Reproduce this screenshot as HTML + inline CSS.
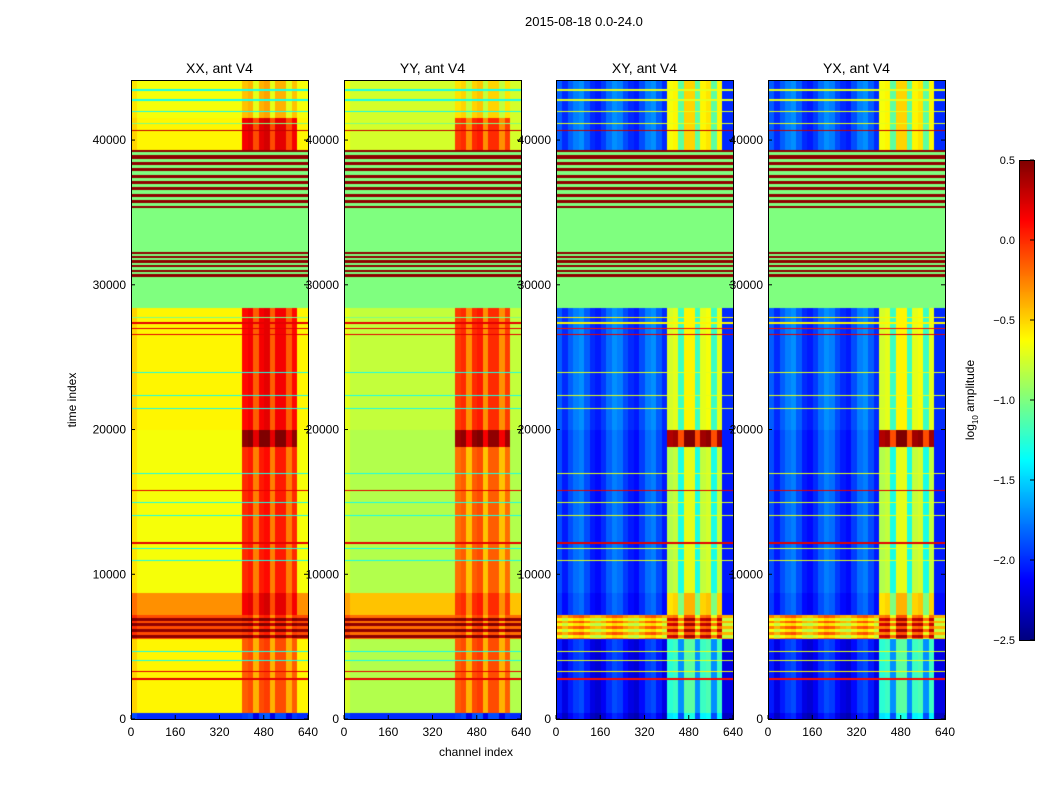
<!DOCTYPE html>
<html><head><meta charset="utf-8">
<style>
body{margin:0;background:#fff;font-family:"Liberation Sans",sans-serif;}
#root{position:relative;width:1050px;height:800px;overflow:hidden;}
.t{position:absolute;font-size:13px;color:#000;white-space:nowrap;}
canvas{position:absolute;z-index:1;}
#ax{z-index:2;}
</style></head><body>
<div id="root">
<div class="t" style="left:525px;top:14px;font-size:13px">2015-08-18 0.0-24.0</div>
<svg id="ax" width="1050" height="800" style="position:absolute;left:0;top:0"></svg>
</div>
<script>
// ---- data ----
const tMax = 44150;
const segStart = [0, 400, 5500, 7200, 8700, 18800, 20000, 28400, 30500, 32300, 35300, 39300, 41500];
const segEnd   = [400, 5500, 7200, 8700, 18800, 20000, 28400, 30500, 32300, 35300, 39300, 41500, 44150];
const segFlag  = [0, 0, 0, 0, 0, 0, 0, 1, 1, 1, 1, 0, 0];
const segStripe= [0, 0, 200, 0, 0, 0, 0, 0, 160, 0, 220, 0, 0];
const xxBase = [-2.0, -0.6, 0.45, -0.3, -0.65, -0.65, -0.6, -1.0, -1.0, -1.0, 0.45, -0.6, -0.65];
const xxRfi  = [-2.0, -0.2, 0.5, 0.1, -0.05, 0.4, 0.05, -1.0, -1.0, -1.0, 0.45, 0.1, -0.5];
const xxAlt  = [0, 0, -0.1, 0, 0, 0, 0, 0, 0.45, 0, -1.0, 0, 0];
const yyBase = [-2.0, -0.85, 0.45, -0.45, -0.85, -0.85, -0.8, -1.0, -1.0, -1.0, 0.45, -0.75, -0.75];
const yyRfi  = [-2.0, -0.2, 0.5, -0.1, -0.25, 0.35, -0.1, -1.0, -1.0, -1.0, 0.45, -0.1, -0.6];
const yyAlt  = [0, 0, -0.2, 0, 0, 0, 0, 0, 0.45, 0, -1.0, 0, 0];
const xyBase = [-2.2, -2.1, -0.7, -2.0, -1.95, -1.95, -1.9, -1.0, -1.0, -1.0, 0.45, -1.9, -1.9];
const xyRfi  = [-1.5, -1.3, 0.2, -0.6, -0.9, 0.3, -0.8, -1.0, -1.0, -1.0, 0.45, -0.7, -0.7];
const xyAlt  = [0, 0, -0.3, 0, 0, 0, 0, 0, 0.45, 0, -1.0, 0, 0];
// per 20-channel bin offsets (32 bins)
const autoChan  = [0.1,0,0,0,0,0,0,0,0,0,0,0,0,0,0,0,0,0,0,0,0.05,0.1,-0.2,0.1,0.15,-0.2,0.1,0.1,-0.2,0.05,0,0];
const crossChan = [0.05,-0.1,0.05,0.15,0.2,0.05,-0.1,-0.15,-0.05,0.1,0.2,0.15,0,-0.1,-0.15,0,0.15,0.2,0.05,-0.1,0.05,0.1,-0.4,0.2,0.2,-0.4,0.1,0.15,-0.4,0.1,-0.1,-0.1];
const rfiFirstBin = 20, rfiLastBin = 29;
// thin horizontal lines
const lineT   = [2800, 3300, 4100, 4700, 11000, 11800, 12200, 14100, 15000, 15800, 17000, 21500, 22400, 24000, 26600, 27000, 27400, 27800, 40700, 41200, 42000, 42800, 43500];
const lineXX  = [0.2, 0.2, -1.3, -1.3, -1.3, -1.3, 0.2, -1.3, -1.3, 0.2, -1.3, -1.3, -1.3, -1.3, 0.2, 0.2, 0.2, -1.0, 0.3, -1.0, -1.3, -1.3, -1.3];
const lineYY  = [0.2, 0.2, -1.3, -1.3, -1.3, -1.3, 0.2, -1.3, -1.3, 0.2, -1.3, -1.3, -1.3, -1.3, 0.2, 0.2, 0.2, -1.0, 0.3, -1.0, -1.3, -1.3, -1.3];
const lineXY  = [0.1, -0.6, -0.7, -0.7, -0.7, -0.7, 0.2, -0.7, -0.7, 0.2, -0.7, -0.7, -0.7, -0.7, 0.2, 0.1, -0.6, -0.6, 0.3, -0.7, -0.7, -0.7, -0.7];
const panelTitles = ["XX, ant V4", "YY, ant V4", "XY, ant V4", "YX, ant V4"];
const xTicks = [0, 160, 320, 480, 640];
const yTicks = [0, 10000, 20000, 30000, 40000];
const cbTicks = [0.5, 0.0, -0.5, -1.0, -1.5, -2.0, -2.5];
const cbLabels = ["0.5", "0.0", "\u22120.5", "\u22121.0", "\u22121.5", "\u22122.0", "\u22122.5"];

// ---- layout ----
const panels = [
 {x:131, base:xxBase, rfi:xxRfi, alt:xxAlt, lines:lineXX, chan:autoChan},
 {x:344, base:yyBase, rfi:yyRfi, alt:yyAlt, lines:lineYY, chan:autoChan},
 {x:556, base:xyBase, rfi:xyRfi, alt:xyAlt, lines:lineXY, chan:crossChan},
 {x:768, base:xyBase, rfi:xyRfi, alt:xyAlt, lines:lineXY, chan:crossChan}];
const PW = 177, PT = 80, PH = 639, vmin = -2.5, vmax = 0.5;
const yS = t => PT + PH - t / tMax * PH;
const xS = (c, x0) => x0 + c / 640 * PW;

function jet(v){
  let f = (v - vmin) / (vmax - vmin); f = Math.max(0, Math.min(1, f));
  const cl = a => Math.max(0, Math.min(1, a));
  const r = cl(Math.min(4*f-1.5, -4*f+4.5)), g = cl(Math.min(4*f-0.5, -4*f+3.5)), b = cl(Math.min(4*f+0.5, -4*f+2.5));
  return [r*255|0, g*255|0, b*255|0];
}
const root = document.getElementById('root');
const svg = document.getElementById('ax');
const NS = 'http://www.w3.org/2000/svg';
function sv(tag, attrs){ const e = document.createElementNS(NS, tag); for (const k in attrs) e.setAttribute(k, attrs[k]); svg.appendChild(e); return e; }

panels.forEach((p, pi) => {
  const cv = document.createElement('canvas');
  cv.width = PW; cv.height = PH;
  cv.style.left = p.x + 'px'; cv.style.top = PT + 'px';
  
  
  root.appendChild(cv);
  const ctx = cv.getContext('2d');
  const img = ctx.createImageData(PW, PH);
  for (let py = 0; py < PH; py++) {
    const t = (PH - py - 0.5) / PH * tMax;
    let s = 0; for (let i = 0; i < segStart.length; i++) if (t >= segStart[i] && t < segEnd[i]) s = i;
    let lineV = null;
    for (let i = 0; i < lineT.length; i++) if (Math.abs(yS(lineT[i]) - PT - py) < 0.6) lineV = p.lines[i];
    for (let px = 0; px < PW; px++) {
      const ch = px / PW * 640, bin = Math.min(31, Math.floor(ch / 20));
      const inRfi = bin >= rfiFirstBin && bin <= rfiLastBin;
      let v;
      if (segStripe[s] && Math.floor(t / segStripe[s]) % 2) v = p.alt[s];
      else v = inRfi ? p.rfi[s] : p.base[s];
      if (!segFlag[s]) v += p.chan[bin];
      if (lineV !== null) v = lineV;
      const c = jet(v), k = (py * PW + px) * 4;
      img.data[k] = c[0]; img.data[k+1] = c[1]; img.data[k+2] = c[2]; img.data[k+3] = 255;
    }
  }
  ctx.putImageData(img, 0, 0);
  const fr = sv('rect', {x:p.x+0.5, y:PT+0.5, width:PW, height:PH, fill:'none', stroke:'#000'});
  
  
  const tt = sv('text', {x:p.x+PW/2, y:73, 'text-anchor':'middle', 'font-size':14, 'font-family':'Liberation Sans'});
  tt.textContent = panelTitles[pi];
  
  
  xTicks.forEach(v => {
    const x = xS(v, p.x);
    sv('line', {x1:x, x2:x, y1:PT+PH, y2:PT+PH-4, stroke:'#000'});
    const l = sv('text', {x:x, y:PT+PH+17, 'text-anchor':'middle', 'font-size':12, 'font-family':'Liberation Sans'});
    l.textContent = v;
    
    
  });
  yTicks.forEach(v => {
    const y = yS(v);
    sv('line', {x1:p.x, x2:p.x+4, y1:y, y2:y, stroke:'#000'});
    sv('line', {x1:p.x+PW, x2:p.x+PW-4, y1:y, y2:y, stroke:'#000'});
    const l = sv('text', {x:p.x-5, y:y+4, 'text-anchor':'end', 'font-size':12, 'font-family':'Liberation Sans'});
    l.textContent = v;
    
    
  });
});
// axis labels
const xl = sv('text', {x:476, y:756, 'text-anchor':'middle', 'font-size':12, 'font-family':'Liberation Sans'});
xl.textContent = 'channel index';


const yl = sv('text', {x:0, y:0, 'text-anchor':'middle', 'font-size':12, 'font-family':'Liberation Sans', transform:'translate(76,400) rotate(-90)'});
yl.textContent = 'time index';


// colorbar
const CBX = 1019, CBW = 15, CBT = 160, CBH = 480;
const cbv = document.createElement('canvas');
cbv.width = CBW; cbv.height = CBH; cbv.style.left = CBX + 'px'; cbv.style.top = CBT + 'px';


root.appendChild(cbv);
const cctx = cbv.getContext('2d');
for (let y = 0; y < CBH; y++) { const c = jet(vmax - (y + 0.5) / CBH * (vmax - vmin)); cctx.fillStyle = `rgb(${c[0]},${c[1]},${c[2]})`; cctx.fillRect(0, y, CBW, 1); }
sv('rect', {x:CBX+0.5, y:CBT+0.5, width:CBW, height:CBH, fill:'none', stroke:'#000'});
cbTicks.forEach((v, i) => {
  const y = CBT + (vmax - v) / (vmax - vmin) * CBH;
  sv('line', {x1:CBX+CBW-4, x2:CBX+CBW, y1:y, y2:y, stroke:'#000'});
  const l = sv('text', {x:CBX-4, y:y+4, 'text-anchor':'end', 'font-size':11, 'font-family':'Liberation Sans'});
  l.textContent = cbLabels[i];
  
  
});
const cl = sv('text', {x:0, y:0, 'text-anchor':'middle', 'font-size':12, 'font-family':'Liberation Sans', transform:'translate(974,400) rotate(-90)'});
cl.innerHTML = 'log<tspan font-size="8" dy="4">10</tspan><tspan dy="-4"> amplitude</tspan>';


</script>
</body></html>
